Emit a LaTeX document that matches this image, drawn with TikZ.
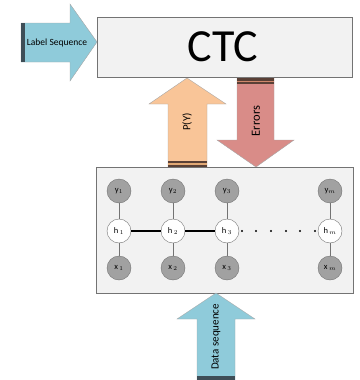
\documentclass[tikz,border=0pt]{standalone}
\usepackage{fontspec}
\setmainfont{Carlito}
\begin{document}
\begin{tikzpicture}[x=1pt,y=-1pt,
  panel/.style={draw=black!55,line width=0.8pt,inner sep=0pt},
  arrowline/.style={draw=gray!70,line width=0.4pt},
  obs/.style={circle,draw=black!55,fill=black!37,minimum size=24pt,inner sep=0pt,font=\fontsize{8.5}{9}\selectfont},
  hid/.style={circle,draw=black!55,fill=white,minimum size=24pt,inner sep=0pt,font=\fontsize{8.5}{9}\selectfont},
  vline/.style={draw=black!55,line width=0.9pt},
  hline/.style={draw=black,line width=1.8pt},
  lbl/.style={inner sep=0pt}
]
\useasboundingbox (0,0) rectangle (359,380);
\definecolor{lblue}{HTML}{8FCBDA}
\definecolor{peach}{HTML}{F9C598}
\definecolor{rose}{HTML}{D98C88}
\definecolor{panelfill}{HTML}{F2F2F2}
\definecolor{bluebar}{HTML}{3E4E57}
\definecolor{brownbar}{HTML}{5A4036}

% CTC box
\node[panel,fill=panelfill,minimum width=255pt,minimum height=60pt,anchor=north west] (ctc) at (97,17) {};
\node[font=\fontsize{46}{46}\selectfont,inner sep=0pt] (ctctext) at (223,47) {CTC};

% Label sequence arrow
\draw[fill=lblue,arrowline] (21,23) -- (70,23) -- (70,4) -- (97,42) -- (70,81) -- (70,62) -- (21,62) -- cycle;
\fill[bluebar] (21,23) rectangle (25,62);
\node[lbl,font=\fontsize{9.5}{10}\selectfont] (lseq) at (57,43) {Label Sequence};

% P(Y) arrow
\draw[fill=peach,arrowline] (168,167) -- (168,104) -- (149,104) -- (187,78) -- (226,104) -- (207,104) -- (207,167) -- cycle;
\fill[brownbar] (168,161) rectangle (207,167);
\fill[peach!60!brown] (168,163) rectangle (207,164.5);
\node[lbl,rotate=90,font=\fontsize{11}{12}\selectfont] (py) at (187,122) {P(Y)};

% Errors arrow
\draw[fill=rose,arrowline] (237,78) -- (274,78) -- (274,140) -- (294,140) -- (256,167) -- (217,140) -- (237,140) -- cycle;
\fill[brownbar] (237,78) rectangle (274,84);
\fill[rose!60!brown] (237,80.5) rectangle (274,82);
\node[lbl,rotate=90,font=\fontsize{12.5}{13}\selectfont] (err) at (256,121) {Errors};

% Lower panel
\node[panel,fill=panelfill,minimum width=257pt,minimum height=126pt,anchor=north west] (rnn) at (96,167) {};

% Data sequence arrow
\draw[fill=lblue,arrowline] (197,380) -- (197,319) -- (177,319) -- (216,293) -- (255,319) -- (235,319) -- (235,380) -- cycle;
\fill[bluebar] (197,376) rectangle (235,380);
\node[lbl,rotate=90,font=\fontsize{11}{12}\selectfont] (dseq) at (216,337) {Data sequence};

% Network nodes
\foreach \i/\xx/\s in {1/119/1,2/173/2,3/227/3,m/330/m}{
  \node[obs] (y\i) at (\xx,191) {y$_{\s}$};
  \node[hid] (h\i) at (\xx,231) {h\,$_{\s}$};
  \node[obs] (x\i) at (\xx,268) {x\,$_{\s}$};
  \draw[vline] (y\i) -- (h\i);
  \draw[vline] (h\i) -- (x\i);
}
\draw[hline] (h1) -- (h2);
\draw[hline] (h2) -- (h3);
\foreach \d/\xx in {1/242,2/256,3/271,4/286,5/300,6/315}{
  \node[circle,fill=black,inner sep=0pt,minimum size=2.2pt] (dot\d) at (\xx,231) {};
}
\end{tikzpicture}
\end{document}
